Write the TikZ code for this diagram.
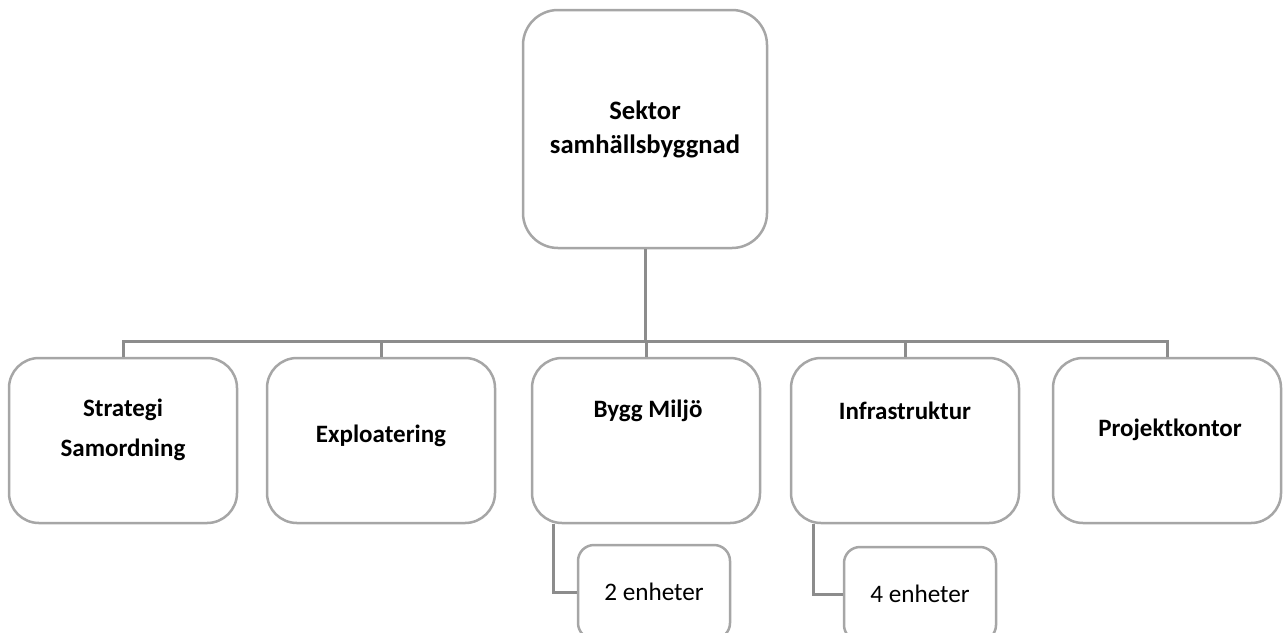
\documentclass[tikz,border=0pt]{standalone}
\usepackage{fontspec}
\setmainfont{Carlito}
\usetikzlibrary{positioning}

\tikzset{
  box/.style={draw=gray!70, line width=1.25pt, fill=white, rounded corners=15pt,
    minimum width=114pt, minimum height=82.5pt, inner sep=0pt},
  head/.style={box, rounded corners=17.5pt, minimum width=122pt, minimum height=119pt,
    align=center, font=\bfseries\fontsize{13.3}{17}\selectfont},
  subbox/.style={box, rounded corners=8pt, minimum width=76pt, minimum height=47pt,
    font=\fontsize{12.6}{14}\selectfont},
  lbl/.style={inner sep=0pt, align=center, font=\bfseries\fontsize{12.5}{20}\selectfont},
  conn/.style={draw=black!45, line width=1.5pt}
}

\begin{document}
\begin{tikzpicture}[x=0.5pt,y=-0.5pt]
\useasboundingbox (0,0) rectangle (1283,632);
\clip (0,0) rectangle (1283,632);

% top of the tree
\node[head] (sektor) at (645,129) {Sektor\\samhällsbyggnad};
\coordinate (bus) at (645,341);

% units
\node[box] (strategi) at (123,440.5) {};
\node[box] (exploatering) at (381,440.5) {};
\node[box] (bygg) at (646,440.5) {};
\node[box] (infra) at (905,440.5) {};
\node[box] (projekt) at (1167,440.5) {};

\node[lbl] (strategi-t) at (123,430) {Strategi\\Samordning};
\node[lbl] (exploatering-t) at (381,436) {Exploatering};
\node[lbl] (bygg-t) at (648,411) {Bygg Miljö};
\node[lbl] (infra-t) at (905,411) {Infrastruktur};
\node[lbl] (projekt-t) at (1170,430) {Projektkontor};

% sub units
\node[subbox] (bygg-sub) at (654,592) {2 enheter};
\node[subbox] (infra-sub) at (920,594) {4 enheter};

% connectors
\draw[conn] (sektor.south) -- (bus);
\foreach \n in {strategi,exploatering,bygg,infra,projekt}
  \draw[conn] (bus) -| (\n.north);
\draw[conn] ([xshift=11.5pt]bygg.south west) |- (bygg-sub.west);
\draw[conn] ([xshift=12pt]infra.south west) |- (infra-sub.west);
\end{tikzpicture}
\end{document}
